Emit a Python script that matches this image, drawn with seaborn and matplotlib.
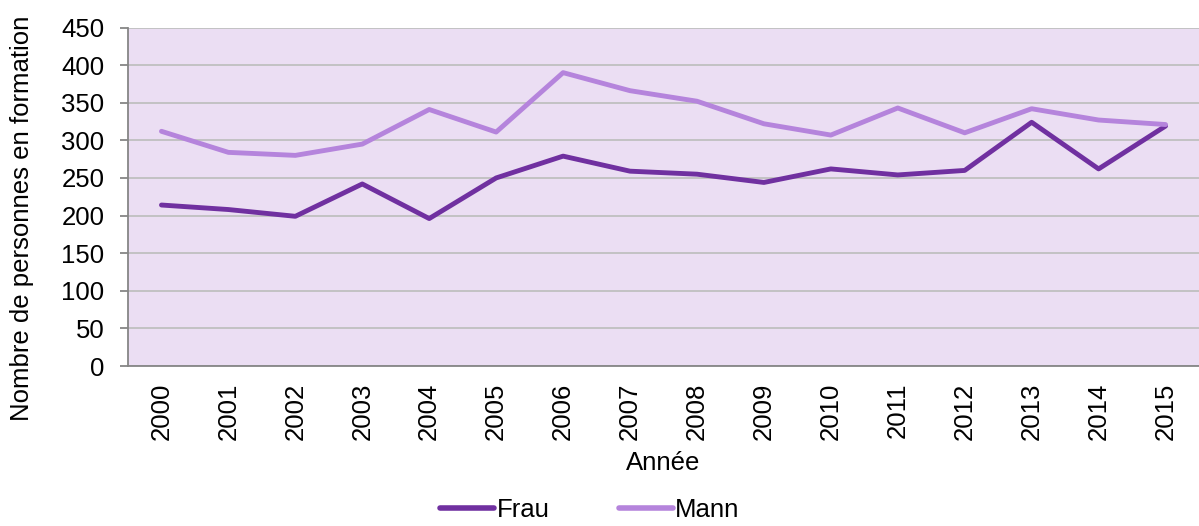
import matplotlib
matplotlib.use("Agg")
import matplotlib.pyplot as plt
import seaborn as sns
import pandas as pd
import numpy as np

# Data
years = [str(y) for y in range(2000, 2016)]
frau = [214, 208, 199, 242, 196, 250, 279, 259, 255, 244, 262, 254, 260, 324, 262, 319]
mann = [312, 284, 280, 295, 341, 311, 390, 366, 352, 322, 307, 343, 310, 342, 327, 321]
series_names = ["Frau", "Mann"]
y_ticks = list(range(0, 451, 50))

colors = {"Frau": "#7030A0", "Mann": "#B584DC"}

sns.set_style("white")
plt.rcParams["font.family"] = ["Liberation Sans", "DejaVu Sans"]
plt.rcParams.update({"text.color": "black", "axes.labelcolor": "black",
                     "xtick.color": "black", "ytick.color": "black"})
FS = 18.5

df = pd.DataFrame({
    "Année": years * 2,
    "value": frau + mann,
    "series": [series_names[0]] * len(years) + [series_names[1]] * len(years),
})
df["pos"] = df["Année"].map({y: i for i, y in enumerate(years)})

fig = plt.figure(figsize=(11.99, 5.26), dpi=100)
ax = fig.add_axes([128 / 1199, 1 - 366 / 526, (1199 - 128) / 1199, (366 - 27.5) / 526])
ax.set_facecolor("#EBDEF3")

sns.lineplot(data=df, x="pos", y="value", hue="series", palette=colors,
             linewidth=3.5, ax=ax, legend=False, zorder=3)

ax.set_xlim(-0.5, len(years) - 0.5)
ax.set_ylim(0, 450)
ax.set_yticks(y_ticks)
ax.set_yticklabels([str(t) for t in y_ticks], fontsize=FS)
ax.yaxis.grid(True, color="#BFBFBF", linewidth=1.3, zorder=1)
ax.set_axisbelow(True)

# category labels centered, tick marks on the boundaries
ax.set_xticks(np.arange(len(years)))
ax.set_xticklabels(years, rotation=90, fontsize=FS)
ax.set_xticks(np.arange(len(years) + 1) - 0.5, minor=True)
ax.tick_params(axis="x", which="major", length=0, pad=12)
ax.tick_params(axis="x", which="minor", length=6, width=1.3, color="#868686")
ax.tick_params(axis="y", length=6, width=1.3, color="#868686", labelcolor="black",
               pad=11, left=True)

for s in ["top", "right"]:
    ax.spines[s].set_visible(False)
for s in ["left", "bottom"]:
    ax.spines[s].set_color("#868686")
    ax.spines[s].set_linewidth(1.3)

ax.set_xlabel("Année", fontsize=FS, labelpad=8)
ax.set_ylabel("")
fig.text(22 / 1199, 1 - 218.5 / 526, "Nombre de personnes en formation",
         rotation=90, ha="center", va="center", fontsize=FS)

handles = [plt.Line2D([], [], color=colors[n], linewidth=4) for n in series_names]
fig.legend(handles, series_names, loc="center", bbox_to_anchor=(0.492, 0.03),
           ncol=2, frameon=False, fontsize=FS, handlelength=2.1,
           handletextpad=0.1, columnspacing=2.7)

fig.savefig("out.png", dpi=100)
